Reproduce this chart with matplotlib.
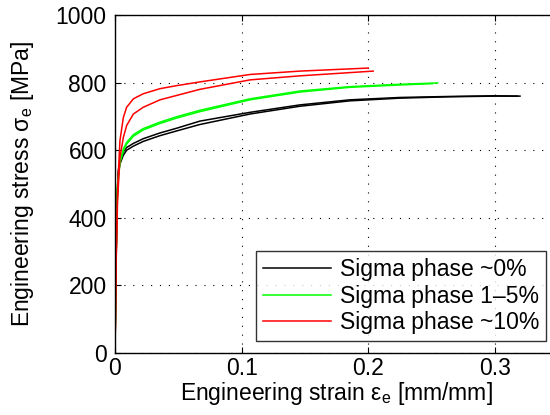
import matplotlib
matplotlib.use('Agg')
import matplotlib.pyplot as plt

plt.rcParams['font.family'] = ['Liberation Sans', 'DejaVu Sans']
plt.rcParams['mathtext.fontset'] = 'custom'
plt.rcParams['mathtext.rm'] = 'Liberation Sans'

# tensile curves, two specimens per sigma phase level
s0_a_strain = [0, 0.0008, 0.0016, 0.0026, 0.0039, 0.0066, 0.0092, 0.0145, 0.0223, 0.0355,
               0.0487, 0.067, 0.1066, 0.146, 0.1855, 0.225, 0.264, 0.30, 0.320]
s0_a_stress = [0, 260, 440, 529, 559, 585, 600, 612, 626, 643,
               657, 676, 707, 730, 746, 754, 758, 760, 760]
s0_b_strain = [0, 0.0008, 0.0016, 0.0026, 0.0039, 0.0066, 0.0092, 0.0145, 0.0223, 0.0355,
               0.0487, 0.067, 0.1066, 0.146, 0.1855, 0.225, 0.264, 0.30, 0.318]
s0_b_stress = [0, 270, 455, 540, 568, 595, 608, 620, 634, 651,
               665, 686, 712, 734, 749, 756, 759, 761, 760]

s5_a_strain = [0, 0.0008, 0.002, 0.0039, 0.0066, 0.0092, 0.0145, 0.0223, 0.0355, 0.0487,
               0.067, 0.1066, 0.146, 0.1855, 0.225, 0.255]
s5_a_stress = [0, 280, 500, 568, 604, 623, 646, 664, 683, 699,
               718, 752, 775, 788, 795, 799]
s5_b_strain = [0, 0.0008, 0.002, 0.0039, 0.0066, 0.0092, 0.0145, 0.0223, 0.0355, 0.0487,
               0.067, 0.1066, 0.146, 0.1855, 0.225, 0.251]
s5_b_stress = [0, 270, 490, 562, 598, 618, 641, 660, 679, 695,
               714, 749, 772, 786, 793, 797]

s10_a_strain = [0, 0.001, 0.002, 0.0039, 0.0066, 0.0092, 0.0145, 0.0223, 0.0355, 0.0487,
                0.067, 0.1066, 0.146, 0.2]
s10_a_stress = [0, 300, 480, 628, 697, 727, 752, 767, 782, 791,
                802, 824, 834, 843]
s10_b_strain = [0, 0.001, 0.002, 0.0039, 0.0066, 0.0092, 0.0145, 0.0223, 0.0355, 0.0487,
                0.067, 0.1066, 0.146, 0.204]
s10_b_stress = [0, 280, 450, 578, 638, 673, 707, 727, 749, 762,
                780, 808, 820, 834]

labels = ['Sigma phase ~0%', 'Sigma phase 1\u20135%', 'Sigma phase ~10%']
colors = ['#000000', '#00ff00', '#ff0000']

fig = plt.figure(figsize=(5.5, 4.15), dpi=100)
ax = fig.add_axes([115 / 550, 62 / 415, 443 / 550, 338 / 415])

curves = [(s0_a_strain, s0_a_stress, s0_b_strain, s0_b_stress),
          (s5_a_strain, s5_a_stress, s5_b_strain, s5_b_stress),
          (s10_a_strain, s10_a_stress, s10_b_strain, s10_b_stress)]
handles = []
for (xa, ya, xb, yb), c, lab in zip(curves, colors, labels):
    h, = ax.plot(xa, ya, color=c, lw=1.1, label=lab)
    ax.plot(xb, yb, color=c, lw=1.1)
    handles.append(h)

ax.set_xlim(0, 0.35)
ax.set_ylim(0, 1000)
ax.set_xticks([0, 0.1, 0.2, 0.3])
ax.set_xticklabels(['0', '0.1', '0.2', '0.3'])
ax.set_yticks([0, 200, 400, 600, 800, 1000])
ax.grid(True, color='black', linestyle=(0, (1, 7)), linewidth=0.8)
ax.tick_params(direction='in', length=4, labelsize=16.5, top=True, right=True, width=0.8,
               pad=3)
ax.tick_params(axis='y', pad=6)
for sp in ax.spines.values():
    sp.set_linewidth(1.0)

ax.set_xlabel(r'Engineering strain ε$_\mathregular{e}$ [mm/mm]', fontsize=16.5, labelpad=0)
ax.set_ylabel(r'Engineering stress σ$_\mathregular{e}$ [MPa]', fontsize=16.5, labelpad=14)

leg = fig.legend(handles=handles, loc='lower right', bbox_to_anchor=(546 / 550, 74 / 415),
                 bbox_transform=fig.transFigure, fontsize=16.5, frameon=True, fancybox=False,
                 handlelength=2.95, handletextpad=0.4, borderpad=0.3, labelspacing=0.15,
                 borderaxespad=0)
leg.get_frame().set_edgecolor('black')
leg.get_frame().set_linewidth(1.0)

fig.savefig('out.png', dpi=100)
